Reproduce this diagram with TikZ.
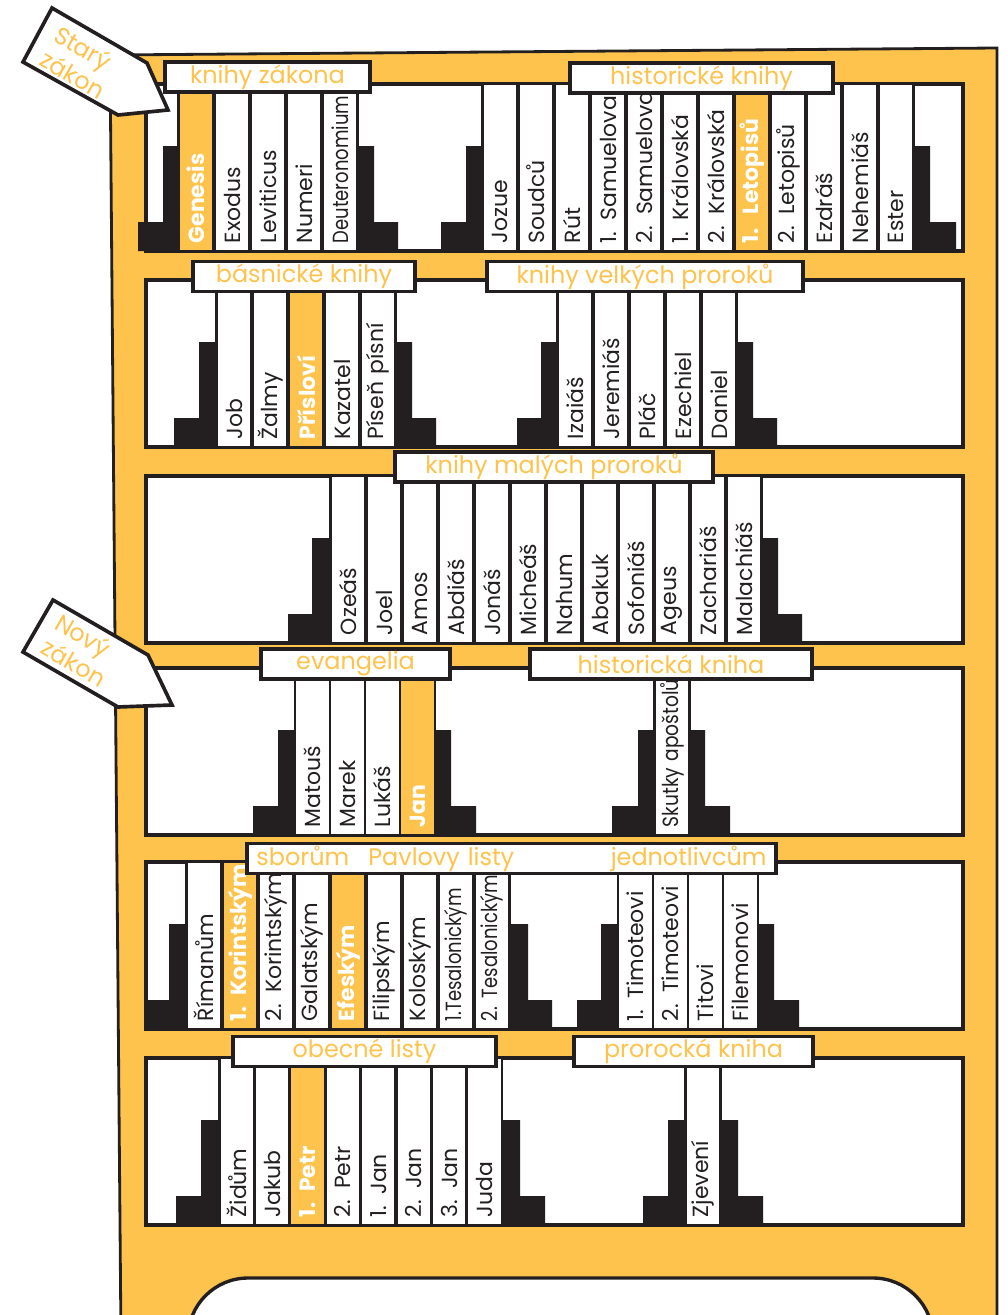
\documentclass[tikz,border=0pt]{standalone}
\usepackage{fontspec}
\setmainfont{Poppins}
\usepackage{graphicx}
\usepackage{xcolor}

\definecolor{zluta}{RGB}{253,195,76}
\definecolor{cerna}{RGB}{35,31,32}

\begin{document}
\begin{tikzpicture}[
		x=0.025cm, y=-0.025cm,
		police/.style={
			draw=cerna,
			fill=white,
			line width=2.6pt
		},
		kniha/.style={
			draw=cerna,
			fill=white,
			line width=2pt,
			rotate=90,
			minimum height=0.875cm,
			text width=3.78cm,
			inner xsep=0.2cm,
			inner ysep=0pt,
			align=left,
			text=cerna,
			font=\fontsize{15.6}{18}\selectfont,
			execute at begin node={\leavevmode\hbox\bgroup},
			execute at end node={\egroup}
		},
		hlavni/.style={
			kniha,
			fill=zluta,
			text=white,
			font=\fontsize{15.6}{18}\selectfont\bfseries
		},
		stitek/.style={
			draw=cerna,
			fill=white,
			line width=2.6pt,
			minimum height=0.75cm,
			inner sep=0pt,
			text=zluta,
			font=\fontsize{17}{18}\selectfont
		},
		zarazka/.style={
			fill=cerna
		},
		sipka/.style={
			draw=cerna,
			fill=white,
			line width=2.6pt
		},
		zakon/.style={
			rotate=-30,
			align=left,
			text=zluta,
			font=\fontsize{17}{20}\selectfont
		}
		]
		
		\useasboundingbox (0,0) rectangle (1007,1315);
		
		% Skříň
		\filldraw[fill=zluta, draw=cerna, line width=2pt] (110,55) -- (997,48) -- (997,1340) -- (121,1340) -- cycle;
		\draw[fill=white, draw=cerna, line width=2.4pt, rounded corners=1.5cm] (188,1345) -- (188,1278) -- (933,1278) -- (933,1345);
		
		% Police
		\draw[police] (146,84) rectangle (963,251);
		\draw[police] (146,280) rectangle (963,447);
		\draw[police] (146,476) rectangle (963,643);
		\draw[police] (146,668) rectangle (963,835);
		\draw[police] (146,862) rectangle (963,1029);
		\draw[police] (146,1058) rectangle (963,1225);
		
		% Knihy zákona
		\node[hlavni] (genesis) at (196,167.5) {Genesis};
		\node[kniha] (exodus) at (232,167.5) {Exodus};
		\node[kniha] (leviticus) at (268,167.5) {Leviticus};
		\node[kniha] (numeri) at (304,167.5) {Numeri};
		\node[kniha] (deuteronomium) at (340,167.5) {\scalebox{0.82}[1]{Deuteronomium}};
		\fill[zarazka] (138,251) |- (163,222) |- (178,146) -- (178,251) -- cycle;
		\fill[zarazka] (358,251) -- (358,146) -| (374,222) -| (398,251) -- cycle;
		
		% Historické knihy
		\node[kniha] (jozue) at (500,167.5) {Jozue};
		\node[kniha] (soudcu) at (536,167.5) {Soudců};
		\node[kniha] (rut) at (572,167.5) {Rút};
		\node[kniha] (samuel1) at (608,167.5) {1. Samuelova};
		\node[kniha] (samuel2) at (644,167.5) {2. Samuelova};
		\node[kniha] (kral1) at (680,167.5) {1. Královská};
		\node[kniha] (kral2) at (716,167.5) {2. Královská};
		\node[hlavni] (letopisy1) at (752,167.5) {1.\ \ Letopisů};
		\node[kniha] (letopisy2) at (788,167.5) {2. Letopisů};
		\node[kniha] (ezdras) at (824,167.5) {Ezdráš};
		\node[kniha] (nehemias) at (860,167.5) {Nehemiáš};
		\node[kniha] (ester) at (896,167.5) {Ester};
		\fill[zarazka] (441,251) |- (466,222) |- (482,146) -- (482,251) -- cycle;
		\fill[zarazka] (914,251) -- (914,146) -| (930,222) -| (956,251) -- cycle;
		
		% Básnické knihy
		\node[kniha] (job) at (234,363.5) {Job};
		\node[kniha] (zalmy) at (270,363.5) {Žalmy};
		\node[hlavni] (prislovi) at (306,363.5) {Přísloví};
		\node[kniha] (kazatel) at (342,363.5) {Kazatel};
		\node[kniha] (pisen) at (378,363.5) {Píseň písní};
		\fill[zarazka] (174,447) |- (199,418) |- (216,342) -- (216,447) -- cycle;
		\fill[zarazka] (396,447) -- (396,342) -| (412,418) -| (436,447) -- cycle;
		
		% Velcí proroci
		\node[kniha] (izaias) at (575,363.5) {Izaiáš};
		\node[kniha] (jeremias) at (611,363.5) {Jeremiáš};
		\node[kniha] (plac) at (647,363.5) {Pláč};
		\node[kniha] (ezechiel) at (683,363.5) {Ezechiel};
		\node[kniha] (daniel) at (719,363.5) {Daniel};
		\fill[zarazka] (517,447) |- (541,418) |- (557,342) -- (557,447) -- cycle;
		\fill[zarazka] (737,447) -- (737,342) -| (753,418) -| (777,447) -- cycle;
		
		% Malí proroci
		\node[kniha] (ozeas) at (348,559.5) {Ozeáš};
		\node[kniha] (joel) at (384,559.5) {Joel};
		\node[kniha] (amos) at (420,559.5) {Amos};
		\node[kniha] (abdias) at (456,559.5) {Abdiáš};
		\node[kniha] (jonas) at (492,559.5) {Jonáš};
		\node[kniha] (micheas) at (528,559.5) {Micheáš};
		\node[kniha] (nahum) at (564,559.5) {Nahum};
		\node[kniha] (abakuk) at (600,559.5) {Abakuk};
		\node[kniha] (sofonias) at (636,559.5) {Sofoniáš};
		\node[kniha] (ageus) at (672,559.5) {Ageus};
		\node[kniha] (zacharias) at (708,559.5) {Zachariáš};
		\node[kniha] (malachias) at (744,559.5) {Malachiáš};
		\fill[zarazka] (288,643) |- (312,614) |- (330,538) -- (330,643) -- cycle;
		\fill[zarazka] (762,643) -- (762,538) -| (778,614) -| (802,643) -- cycle;
		
		% Evangelia
		\node[kniha] (matous) at (312.5,751.5) {Matouš};
		\node[kniha] (marek) at (347.5,751.5) {Marek};
		\node[kniha] (lukas) at (382.5,751.5) {Lukáš};
		\node[hlavni] (jan) at (417.5,751.5) {Jan};
		\fill[zarazka] (253,835) |- (278,806) |- (295,730) -- (295,835) -- cycle;
		\fill[zarazka] (435,835) -- (435,730) -| (451,806) -| (476,835) -- cycle;
		
		% Skutky
		\node[kniha] (skutky) at (672,751.5) {\scalebox{0.85}[1]{Skutky apoštolů}};
		\fill[zarazka] (612,835) |- (638,806) |- (655,730) -- (655,835) -- cycle;
		\fill[zarazka] (689,835) -- (689,730) -| (705,806) -| (730,835) -- cycle;
		
		% Pavlovy listy sborům
		\node[kniha] (rimanum) at (204,945.5) {Římanům};
		\node[hlavni] (korint1) at (240,945.5) {1. Korintským};
		\node[kniha] (korint2) at (276,945.5) {2. Korintským};
		\node[kniha] (galatskym) at (312,945.5) {Galatským};
		\node[hlavni] (efeskym) at (348,945.5) {Efeským};
		\node[kniha] (filipskym) at (384,945.5) {Filipským};
		\node[kniha] (koloskym) at (420,945.5) {Koloským};
		\node[kniha] (tesal1) at (456,945.5) {\scalebox{0.82}[1]{1.Tesalonickým}};
		\node[kniha] (tesal2) at (492,945.5) {\scalebox{0.82}[1]{2. Tesalonickým}};
		\fill[zarazka] (145,1029) |- (169,1000) |- (186,924) -- (186,1029) -- cycle;
		\fill[zarazka] (510,1029) -- (510,924) -| (528,1000) -| (552,1029) -- cycle;
		
		% Pavlovy listy jednotlivcům
		\node[kniha] (timoteus1) at (635.5,945.5) {1. Timoteovi};
		\node[kniha] (timoteus2) at (670.5,945.5) {2. Timoteovi};
		\node[kniha] (titus) at (705.5,945.5) {Titovi};
		\node[kniha] (filemon) at (740.5,945.5) {Filemonovi};
		\fill[zarazka] (577,1029) |- (601,1000) |- (618,924) -- (618,1029) -- cycle;
		\fill[zarazka] (758,1029) -- (758,924) -| (774,1000) -| (799,1029) -- cycle;
		
		% Obecné listy
		\node[kniha] (zidum) at (236.7,1141.5) {Židům};
		\node[kniha] (jakub) at (272.1,1141.5) {Jakub};
		\node[hlavni] (petr1) at (307.5,1141.5) {1. Petr};
		\node[kniha] (petr2) at (342.9,1141.5) {2. Petr};
		\node[kniha] (jan1) at (378.3,1141.5) {1. Jan};
		\node[kniha] (jan2) at (413.7,1141.5) {2. Jan};
		\node[kniha] (jan3) at (449.1,1141.5) {3. Jan};
		\node[kniha] (juda) at (484.5,1141.5) {Juda};
		\fill[zarazka] (176,1225) |- (201,1196) |- (219,1120) -- (219,1225) -- cycle;
		\fill[zarazka] (502,1225) -- (502,1120) -| (520,1196) -| (545,1225) -- cycle;
		
		% Zjevení
		\node[kniha] (zjeveni) at (703,1141.5) {Zjevení};
		\fill[zarazka] (643,1225) |- (668,1196) |- (686,1120) -- (686,1225) -- cycle;
		\fill[zarazka] (720,1225) -- (720,1120) -| (738,1196) -| (763,1225) -- cycle;
		
		% Štítky
		\node[stitek, minimum width=5.125cm] (tzakona) at (267.5,77) {knihy zákona};
		\node[stitek, minimum width=6.575cm] (thistoricke) at (701.5,78) {historické knihy};
		\node[stitek, minimum width=5.55cm] (tbasnicke) at (304,276.5) {básnické knihy};
		\node[stitek, minimum width=7.9cm] (tvelkych) at (645,276.5) {knihy velkých proroků};
		\node[stitek, minimum width=7.95cm] (tmalych) at (554,467) {knihy malých proroků};
		\node[stitek, minimum width=4.725cm] (tevangelia) at (355.5,664) {evangelia};
		\node[stitek, minimum width=7.05cm] (thistoricka) at (671,664) {historická kniha};
		\node[stitek, minimum width=13.225cm, text width=12.75cm, align=left] (tpavlovy) at (511.5,858.5) {sborům\hspace{0.8em}Pavlovy listy\hfill jednotlivcům};
		\node[stitek, minimum width=6.575cm] (tobecne) at (364.5,1051.5) {obecné listy};
		\node[stitek, minimum width=5.975cm] (tprorocka) at (693.5,1051.5) {prorocká kniha};
		
		% Šipky
		\draw[sipka] (52,8) -- (147,63) -- (168,110) -- (118,115) -- (23,62) -- cycle;
		\node[zakon] (stary) at (80,62) {Starý\\zákon};
		\draw[sipka] (53,600) -- (148,655) -- (172,705) -- (118,707) -- (23,652) -- cycle;
		\node[zakon] (novy) at (81,650) {Nový\\zákon};
		
	\end{tikzpicture}
\end{document}
